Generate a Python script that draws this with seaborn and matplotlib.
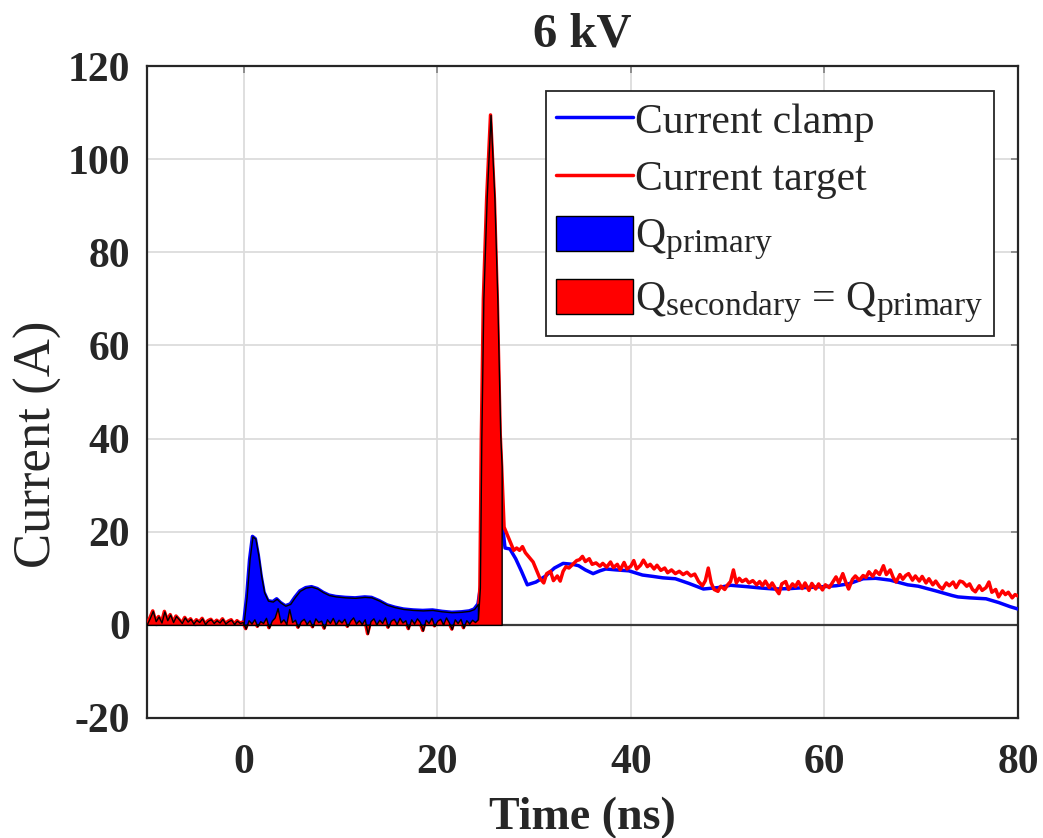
import numpy as np
import pandas as pd
import matplotlib
matplotlib.use('Agg')
import matplotlib.pyplot as plt
import matplotlib._mathtext as mathtext_internals
import seaborn as sns
from matplotlib.lines import Line2D
from matplotlib.patches import Patch

# Current clamp (primary side)
t_clamp = [-10, -9, -8, -7, -6, -5, -4, -3, -2, -1, -0.5, 0, 0.3, 0.6, 0.9, 1.2, 1.5, 1.8, 2.1,
           2.5, 3.0, 3.4, 3.8, 4.3, 4.8, 5.3, 5.8, 6.4, 7.0, 7.6, 8.2, 8.8, 9.5, 10.5, 11.5, 12.5,
           13.2, 14.0, 14.8, 15.6, 16.5, 17.5, 18.5, 19.5, 20.5, 21.5, 22.5, 23.3, 23.8, 24.2,
           24.6, 25.0, 25.3, 25.6, 25.9, 26.3, 26.7, 27.0, 27.5, 28.1, 28.7, 29.3, 30.2, 31.2,
           32.1, 33.0, 34.0, 34.6, 35.3, 36.1, 36.8, 37.4, 38.5, 39.8, 41.2, 42.3, 43.3, 44.6,
           46.0, 47.5, 49.0, 50.3, 52.0, 53.5, 54.8, 56.5, 58.0, 59.9, 61.2, 62.5, 64.0, 65.3,
           66.8, 68.6, 69.7, 71.5, 73.2, 73.8, 75.0, 76.7, 78.0, 79.2, 80.0]
i_clamp = [0.3, 0.1, 0.4, 0.2, 0.3, 0.1, 0.3, 0.2, 0.3, 0.2, 0.3, 0.5, 6.0, 14.0, 19.0, 18.5, 15.0,
           10.5, 7.0, 5.2, 5.0, 5.6, 4.8, 4.1, 4.5, 6.0, 7.3, 8.0, 8.2, 7.8, 7.0, 6.4, 6.1, 5.9,
           5.8, 6.0, 5.9, 5.2, 4.3, 3.8, 3.4, 3.2, 3.1, 3.2, 2.9, 2.7, 2.8, 3.0, 3.4, 4.5,
           10.0, 30.0, 68.0, 98.0, 80.0, 45.0, 22.0, 16.5, 16.3, 14.2, 11.5, 8.6, 9.2, 10.5,
           12.2, 13.2, 13.0, 12.7, 11.8, 11.0, 11.6, 12.0, 11.8, 11.6, 10.7, 10.4, 10.1, 9.9,
           8.9, 7.7, 8.0, 8.5, 8.2, 7.9, 7.7, 7.8, 8.0, 8.2, 8.4, 8.8, 9.9, 10.0,
           9.6, 8.6, 8.3, 7.3, 6.3, 6.0, 5.8, 5.6, 4.8, 3.9, 3.4]

# Current at the target (secondary side)
t_target = [-10.0, -9.7, -9.4, -9.1, -8.8, -8.5, -8.2, -7.9, -7.6, -7.3, -7.0, -6.7, -6.4, -6.1,
            -5.8, -5.5, -5.2, -4.9, -4.6, -4.3, -4.0, -3.7, -3.4, -3.1, -2.8, -2.5, -2.2, -1.9,
            -1.6, -1.3, -1.0, -0.7, -0.4, -0.1,
            0.2, 0.5, 0.8, 1.1, 1.4, 1.7, 2.0, 2.3, 2.6, 2.9, 3.2, 3.5, 3.8, 4.1, 4.4, 4.7, 5.0,
            5.3, 5.6, 5.9, 6.2, 6.5, 6.8, 7.1, 7.4, 7.7, 8.0, 8.3, 8.6, 8.9, 9.2, 9.5, 9.8, 10.1,
            10.4, 10.7, 11.0, 11.3, 11.6, 11.9, 12.2, 12.5, 12.8, 13.1, 13.4, 13.7, 14.0, 14.3,
            14.6, 14.9, 15.2, 15.5, 15.8, 16.1, 16.4, 16.7, 17.0, 17.3, 17.6, 17.9, 18.2, 18.5,
            18.8, 19.1, 19.4, 19.7, 20.0, 20.3, 20.6, 20.9, 21.2, 21.5, 21.8, 22.1, 22.4, 22.7,
            23.0, 23.3, 23.6, 23.9, 24.2,
            24.4, 24.55, 24.76, 25.1, 25.5, 25.9, 26.2, 26.5, 26.65, 26.9, 27.2, 27.5, 27.9,
            28.2, 28.5, 28.8, 29.1, 29.5, 29.9, 30.3, 30.6, 31.0, 31.3, 31.7, 32.0, 32.4, 32.7,
            33.0, 33.3, 33.6, 34.0, 34.4, 34.7, 35.0, 35.3, 35.7, 36.0, 36.4, 36.8, 37.1, 37.5,
            37.9, 38.2, 38.6, 38.9, 39.3, 39.6, 40.0, 40.3, 40.6, 41.0, 41.3, 41.7, 42.0, 42.4,
            42.7, 43.1, 43.5, 43.8, 44.2, 44.6, 45.0, 45.4, 45.8, 46.2, 46.6, 47.0, 47.4, 47.7,
            48.0, 48.3, 48.6, 49.0, 49.3, 49.7, 50.0, 50.3, 50.6, 50.9, 51.2, 51.5, 51.9, 52.2,
            52.6, 53.0, 53.3, 53.6, 53.9, 54.3, 54.6, 55.0, 55.3, 55.6, 56.0, 56.3, 56.7, 57.0,
            57.3, 57.7, 58.0, 58.4, 58.7, 59.1, 59.4, 59.8, 60.1, 60.5, 60.8, 61.2, 61.5, 61.9,
            62.2, 62.5, 62.9, 63.2, 63.6, 64.0, 64.3, 64.6, 65.0, 65.3, 65.7, 66.1, 66.4, 66.8,
            67.1, 67.4, 67.8, 68.1, 68.4, 68.7, 69.1, 69.4, 69.8, 70.1, 70.5, 70.8, 71.2, 71.5,
            71.9, 72.2, 72.6, 72.9, 73.3, 73.6, 74.0, 74.3, 74.7, 75.0, 75.3, 75.6, 76.0, 76.3,
            76.7, 77.0, 77.3, 77.7, 78.0, 78.4, 78.7, 79.0, 79.4, 79.7, 80.0]
i_target = [0.2, 1.5, 3.0, 0.8, 1.8, 0.5, 2.9, 1.0, 2.2, 0.6, 1.9, 1.2, 0.4, 1.6,
            0.7, 1.3, 0.3, 1.1, 0.6, 1.4, 0.2, 0.9, 1.2, 0.4, 1.0, 0.5, 1.3, 0.3,
            0.8, 1.1, 0.2, 0.9, 0.4, 0.6,
            -0.8, 1.0, 0.3, 1.2, -0.3, 0.8, 0.4, 1.5, -0.6, 0.9, 1.6, 3.6, 0.5, 1.2, 0.2, 3.4, 0.6,
            1.1, -0.5, 0.8, 1.3, 0.2, 1.0, -0.4, 1.4, 0.6, 0.9, -0.7, 1.2, 0.4, 1.5, 0.1, 1.1, 0.5,
            1.3, -0.3, 0.9, 1.6, 0.3, 1.0, 0.2, 1.2, -1.9, 0.8, 1.4, 0.1, 1.1, 0.4,
            1.6, -0.5, 0.9, 1.3, 0.2, 1.5, 0.5, 1.0, -0.8, 1.2, 0.3, 1.4, 0.6, -1.2,
            1.1, 0.4, 1.5, -0.2, 0.9, 1.3, 0.1, 1.6, 0.5, -0.9, 1.2, 0.4, 1.3, -0.6,
            1.0, 0.3, 1.1, 0.6, 1.2,
            8.0, 40.0, 70.0, 91.5, 109.5, 91.5, 70.0, 41.0, 34.0, 21.0, 19.5, 18.0, 16.0,
            16.5, 16.0, 16.8, 15.5, 14.5, 13.5, 11.5, 10.0, 9.0, 11.0, 11.5, 9.5, 10.5, 9.4,
            11.5, 12.5, 12.2, 13.0, 13.8, 14.0, 14.7, 13.6, 14.2, 13.0, 13.3, 12.6, 13.2, 12.4,
            13.5, 12.3, 13.0, 11.8, 13.4, 12.0, 12.6, 13.8, 12.0, 12.8, 13.9, 12.5, 13.0, 12.0,
            12.8, 11.7, 12.2, 11.2, 11.8, 11.0, 11.5, 10.8, 11.3, 10.5, 10.9, 9.3, 8.4, 9.5,
            12.2, 9.0, 7.6, 7.2, 8.3, 7.6, 8.6, 9.3, 11.8, 9.0, 10.0, 9.3, 9.8, 9.0,
            9.5, 8.6, 9.3, 8.4, 9.4, 8.0, 9.0, 7.6, 6.7, 8.8, 9.3, 7.6, 8.8, 8.2,
            9.3, 7.8, 9.0, 7.4, 8.9, 7.7, 8.8, 7.5, 8.6, 8.0, 9.0, 10.3, 9.0, 11.0,
            9.2, 7.7, 9.8, 10.5, 9.6, 10.6, 10.2, 11.4, 10.4, 11.6, 10.8, 12.7, 10.8, 11.8,
            10.2, 9.2, 10.8, 9.8, 10.6, 11.0, 9.6, 10.5, 9.4, 10.4, 9.0, 9.9, 8.6, 9.4,
            8.2, 7.7, 9.0, 8.4, 9.2, 8.0, 9.4, 9.2, 8.3, 8.8, 7.6, 7.1, 8.4, 7.4,
            8.0, 9.2, 7.0, 7.6, 6.0, 7.3, 6.5, 7.0, 5.8, 6.5, 6.2]

# integration windows (ns)
q_primary_window = (0.0, 24.2)
q_secondary_end = 26.65

clamp = pd.DataFrame({'t': t_clamp, 'i': i_clamp})
target = pd.DataFrame({'t': t_target, 'i': i_target})

sns.set_style('white')
plt.rcParams['font.family'] = ['Liberation Serif', 'DejaVu Serif']
plt.rcParams['mathtext.fontset'] = 'custom'
plt.rcParams['mathtext.rm'] = 'Liberation Serif'
plt.rcParams['mathtext.it'] = 'Liberation Serif:italic'
plt.rcParams['mathtext.bf'] = 'Liberation Serif:bold'
plt.rcParams['axes.unicode_minus'] = False
# MATLAB-style subscripts are a bit larger than matplotlib's default
mathtext_internals.SHRINK_FACTOR = 0.8

fig = plt.figure(figsize=(10.43, 8.38), dpi=100)
ax = fig.add_axes([0.1409, 0.1432, 0.8351, 0.7780])

ax.grid(True, color='#dcdcdc', lw=1.3)
ax.set_axisbelow(True)
ax.axhline(0, color='#3a3a3a', lw=1.6, zorder=2)

sns.lineplot(data=clamp, x='t', y='i', ax=ax, color='#0000ff', lw=2.5, sort=False,
             estimator=None, zorder=3)
sns.lineplot(data=target, x='t', y='i', ax=ax, color='#ff0000', lw=2.5, sort=False,
             estimator=None, zorder=4)

# shaded charges
prim = clamp[(clamp.t >= q_primary_window[0]) & (clamp.t <= q_primary_window[1])]
ax.fill_between(prim.t, prim.i, 0, facecolor='#0000ff', edgecolor='black', lw=1.0, zorder=5)
sec = target[target.t <= q_secondary_end]
ax.fill_between(sec.t, sec.i, 0, facecolor='#ff0000', edgecolor='black', lw=1.0, zorder=6)

ax.set_xlim(-10, 80)
ax.set_ylim(-20, 120)
ax.set_xticks([0, 20, 40, 60, 80])
ax.set_yticks([-20, 0, 20, 40, 60, 80, 100, 120])
ax.tick_params(axis='both', direction='in', length=5, color='#808080', width=1.2,
               top=True, right=True, labelsize=30)
ax.tick_params(axis='x', pad=19)
ax.tick_params(axis='y', pad=12)
for lab in ax.get_xticklabels() + ax.get_yticklabels():
    lab.set_fontweight('bold')
for s in ax.spines.values():
    s.set_color('#262626')
    s.set_linewidth(1.6)

ax.set_xlabel('Time (ns)', fontsize=33, fontweight='bold', labelpad=10)
ax.set_ylabel('Current (A)', fontsize=38)
ax.yaxis.set_label_coords(-0.098, 0.42)
ax.set_title('6 kV', fontsize=35, fontweight='bold', pad=14)

handles = [
    Line2D([], [], color='#0000ff', lw=2.5),
    Line2D([], [], color='#ff0000', lw=2.5),
    Patch(facecolor='#0000ff', edgecolor='black', lw=1.0),
    Patch(facecolor='#ff0000', edgecolor='black', lw=1.0),
]
labels = ['Current clamp', 'Current target', r'Q$_\mathregular{primary}$',
          r'Q$_\mathregular{secondary}$ = Q$_\mathregular{primary}$']
leg = ax.legend(handles, labels, loc='upper right', bbox_to_anchor=(0.9725, 0.9617),
                borderaxespad=0, fontsize=30, fancybox=False, framealpha=1,
                edgecolor='#262626', handlelength=1.85, handleheight=0.9,
                handletextpad=0.05, labelspacing=0.4, borderpad=0.25)
leg.get_frame().set_linewidth(1.3)

fig.savefig('out.png', dpi=100, facecolor='white')
